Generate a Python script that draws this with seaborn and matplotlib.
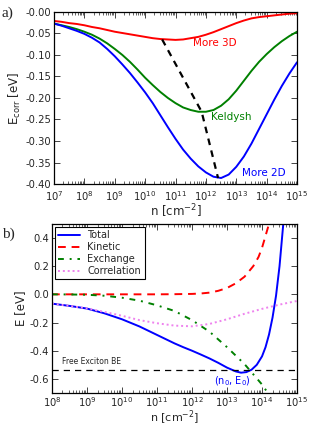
import numpy as np
import pandas as pd
import seaborn as sns
import matplotlib
matplotlib.use("Agg")
import matplotlib.pyplot as plt
from matplotlib.ticker import LogLocator, FixedLocator, FormatStrFormatter

# painel a) energia de correlacao, log10(n) em quartos de decada
log_n_a = [7.0, 7.25, 7.5, 7.75, 8.0, 8.25, 8.5, 8.75, 9.0, 9.25, 9.5, 9.75, 10.0,
           10.25, 10.5, 10.75, 11.0, 11.25, 11.5, 11.75, 12.0, 12.25, 12.5, 12.75,
           13.0, 13.25, 13.5, 13.75, 14.0, 14.25, 14.5, 14.75, 15.0]
e_3d = [-0.021, -0.023, -0.026, -0.028, -0.031, -0.035, -0.038, -0.042, -0.046,
        -0.049, -0.052, -0.055, -0.058, -0.061, -0.063, -0.064, -0.065, -0.064,
        -0.061, -0.058, -0.053, -0.047, -0.040, -0.033, -0.026, -0.020, -0.015,
        -0.012, -0.010, -0.008, -0.006, -0.004, -0.003]
e_keldysh = [-0.027, -0.031, -0.035, -0.040, -0.046, -0.053, -0.062, -0.073, -0.086,
             -0.100, -0.116, -0.134, -0.153, -0.170, -0.186, -0.200, -0.212, -0.222,
             -0.228, -0.232, -0.232, -0.228, -0.218, -0.203, -0.183, -0.160, -0.137,
             -0.116, -0.098, -0.082, -0.068, -0.056, -0.046]
e_2d = [-0.027, -0.032, -0.038, -0.044, -0.051, -0.060, -0.071, -0.086, -0.103,
        -0.122, -0.142, -0.164, -0.187, -0.212, -0.240, -0.268, -0.295, -0.320,
        -0.341, -0.359, -0.373, -0.383, -0.386, -0.378, -0.360, -0.336, -0.306,
        -0.272, -0.238, -0.204, -0.172, -0.143, -0.117]
# minimos ligados pela linha tracejada
log_n_min = [10.56, 11.86, 12.4]
e_min = [-0.064, -0.232, -0.386]

# painel b) componentes da energia
log_n_exc = [8.0, 8.5, 9.0, 9.5, 10.0, 10.5, 11.0, 11.5, 12.0, 12.5, 13.0, 13.5, 14.0, 14.25]
e_exchange = [0.000, -0.001, -0.003, -0.010, -0.024, -0.045, -0.078, -0.118, -0.183,
              -0.265, -0.375, -0.495, -0.640, -0.730]
log_n_kin = [8.0, 9.0, 10.0, 11.0, 11.5, 12.0, 12.25, 12.5, 12.75, 13.0, 13.25, 13.5,
             13.75, 13.9, 14.0, 14.1, 14.2, 14.3]
e_kinetic = [0.0, 0.0, 0.0, 0.0, 0.001, 0.003, 0.006, 0.012, 0.025, 0.045, 0.078, 0.125,
             0.200, 0.265, 0.330, 0.415, 0.500, 0.620]
log_n_corr = [8.0, 8.5, 9.0, 9.5, 10.0, 10.5, 11.0, 11.5, 12.0, 12.5, 13.0, 13.5, 14.0, 14.5, 15.0]
e_correlation = [-0.066, -0.082, -0.100, -0.125, -0.152, -0.183, -0.205, -0.222, -0.227,
                 -0.210, -0.177, -0.138, -0.103, -0.073, -0.047]
log_n_tot = [8.0, 8.5, 9.0, 9.5, 10.0, 10.5, 11.0, 11.25, 11.5, 11.75, 12.0, 12.25, 12.5,
             12.75, 13.0, 13.25, 13.4, 13.55, 13.7, 13.85, 14.0, 14.1, 14.2, 14.3, 14.4,
             14.5, 14.6, 14.7]
e_total = [-0.066, -0.082, -0.101, -0.135, -0.177, -0.228, -0.288, -0.318, -0.348, -0.375,
           -0.400, -0.427, -0.455, -0.486, -0.520, -0.547, -0.556, -0.552, -0.535, -0.500,
           -0.440, -0.375, -0.285, -0.165, -0.010, 0.200, 0.480, 0.800]
free_exciton_be = -0.54

sns.set_style("ticks")
plt.rcParams["font.family"] = ["DejaVu Sans"]
plt.rcParams["xtick.direction"] = "in"
plt.rcParams["ytick.direction"] = "in"

fig = plt.figure(figsize=(3.13, 4.26), dpi=100)
ax1 = fig.add_axes([0.1725, 0.568, 0.7765, 0.404])
ax2 = fig.add_axes([0.166, 0.0775, 0.783, 0.397])

lw = 1.4
# painel a
for vals, cor in [(e_3d, "red"), (e_keldysh, "green"), (e_2d, "blue")]:
    sns.lineplot(x=10.0 ** np.array(log_n_a), y=vals, color=cor, lw=lw, ax=ax1)
sns.lineplot(x=10.0 ** np.array(log_n_min), y=e_min, color="black", lw=1.6,
             ls=(0, (3, 2.5)), ax=ax1, sort=False)
ax1.text(10 ** 12.3, -0.072, "More 3D", color="red", fontsize=7.5, ha="center", va="center")
ax1.text(10 ** 12.85, -0.244, "Keldysh", color="green", fontsize=7.5, ha="center", va="center")
ax1.text(10 ** 13.9, -0.375, "More 2D", color="blue", fontsize=7.5, ha="center", va="center")

ax1.set_xscale("log")
ax1.set_xlim(1e7, 1e15)
ax1.set_ylim(-0.40, 0.0)
ax1.yaxis.set_major_locator(FixedLocator(np.arange(-0.40, 0.001, 0.05)))
ax1.yaxis.set_major_formatter(FormatStrFormatter("%.2f"))
ax1.set_ylabel(r"E$_{\rm corr}$ [eV]", fontsize=8.5, labelpad=2)
ax1.set_xlabel(r"n [cm$^{-2}$]", fontsize=8.5, labelpad=0)

# painel b
sns.lineplot(x=10.0 ** np.array(log_n_tot), y=e_total, color="blue", lw=lw,
             label="Total", ax=ax2)
sns.lineplot(x=10.0 ** np.array(log_n_kin), y=e_kinetic, color="red", lw=lw,
             ls=(0, (4, 3)), label="Kinetic", ax=ax2)
sns.lineplot(x=10.0 ** np.array(log_n_exc), y=e_exchange, color="green", lw=lw,
             ls=(0, (3, 3, 1, 3)), label="Exchange", ax=ax2)
sns.lineplot(x=10.0 ** np.array(log_n_corr), y=e_correlation, color="violet", lw=lw,
             ls=(0, (1, 1.5)), label="Correlation", ax=ax2)
ax2.axhline(free_exciton_be, color="black", lw=0.9, ls=(0, (5, 4)))
ax2.text(10 ** 8.3, free_exciton_be + 0.03, "Free Exciton BE", fontsize=5.5, va="bottom")
ax2.text(10 ** 13.15, -0.615, r"(n$_0$, E$_0$)", color="blue", fontsize=7, ha="center", va="center")

ax2.set_xscale("log")
ax2.set_xlim(1e8, 1e15)
ax2.set_ylim(-0.7, 0.5)
ax2.yaxis.set_major_locator(FixedLocator([-0.6, -0.4, -0.2, 0.0, 0.2, 0.4]))
ax2.yaxis.set_major_formatter(FormatStrFormatter("%.1f"))
ax2.set_ylabel("E [eV]", fontsize=8.5, labelpad=2)
ax2.set_xlabel(r"n [cm$^{-2}$]", fontsize=8, labelpad=0)
leg = ax2.legend(loc="upper left", fontsize=7, handlelength=2.2, borderpad=0.35,
                 labelspacing=0.2, handletextpad=0.8, fancybox=False,
                 borderaxespad=0.3, framealpha=1)
leg.get_frame().set_edgecolor("black")
leg.get_frame().set_linewidth(0.8)

for ax in (ax1, ax2):
    ax.xaxis.set_major_locator(LogLocator(base=10, numticks=20))
    ax.xaxis.set_minor_locator(LogLocator(base=10, subs=np.arange(2, 10), numticks=20))
    ax.tick_params(which="both", top=True, right=True, labelsize=7.2, pad=2)
    ax.tick_params(which="major", length=4, width=0.6)
    ax.tick_params(which="minor", length=2, width=0.5)
    for s in ax.spines.values():
        s.set_color("black")
        s.set_linewidth(0.9)
ax1.tick_params(axis="x", which="both", pad=3.5)
ax2.tick_params(axis="x", which="both", pad=1.5)

fig.text(0.005, 0.985, "a)", fontsize=11, family="Liberation Serif", va="top")
fig.text(0.005, 0.465, "b)", fontsize=11, family="Liberation Serif", va="top")

fig.savefig("out.png", dpi=100)
